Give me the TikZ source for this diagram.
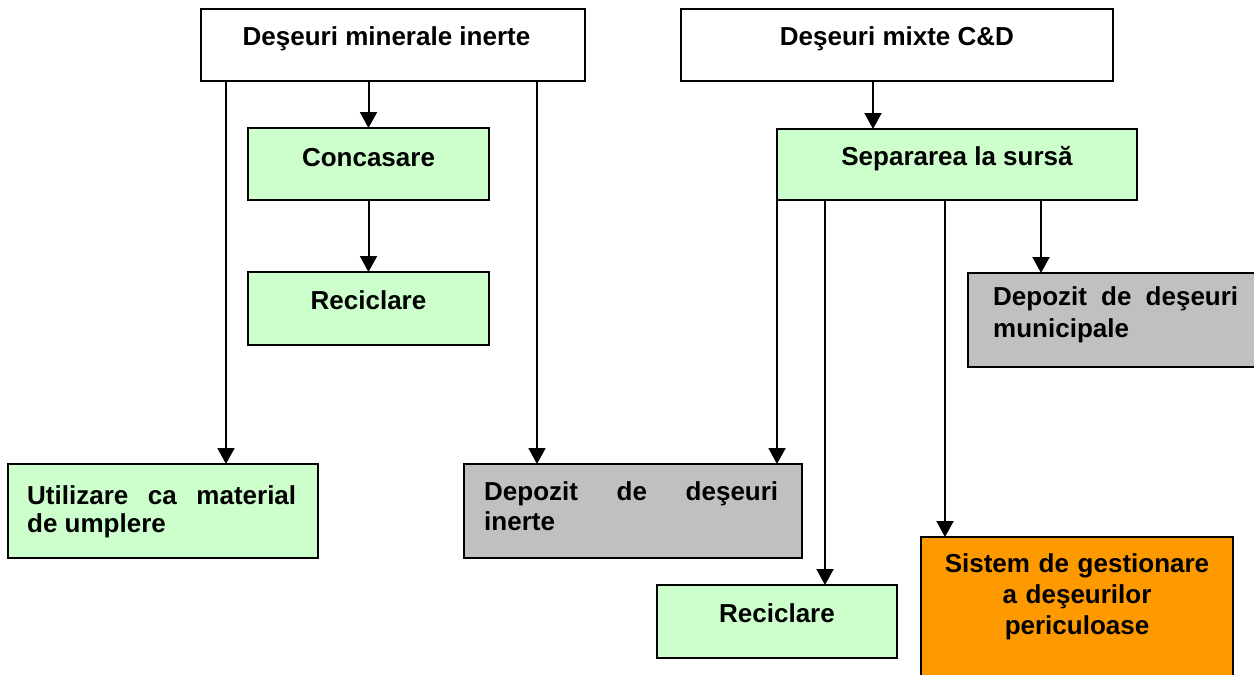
\documentclass[tikz,border=0pt]{standalone}
\usepackage{fontspec}
\setmainfont{Liberation Sans}
\usetikzlibrary{arrows.meta,calc}
\definecolor{lgreen}{RGB}{204,255,204}
\definecolor{lgray}{RGB}{192,192,192}
\definecolor{orng}{RGB}{255,153,0}
\tolerance=10000
\hbadness=10000
\hyphenpenalty=10000
\exhyphenpenalty=10000
\begin{document}
\begin{tikzpicture}[x=1pt,y=-1pt,
  box/.style={draw=black,line width=2pt,rectangle,inner sep=0pt,outer sep=0pt,anchor=north west},
  whitebox/.style={box,fill=white},
  greenbox/.style={box,fill=lgreen},
  graybox/.style={box,fill=lgray},
  orangebox/.style={box,fill=orng},
  lbl/.style={font=\fontsize{26}{30}\selectfont\bfseries,inner sep=0pt,anchor=base},
  para/.style={font=\fontsize{26}{#1}\selectfont\bfseries,inner sep=0pt,anchor=north west,align=justify},
  arr/.style={line width=2pt,-{Triangle[width=17pt,length=16pt]}}]
\useasboundingbox (0,0) rectangle (1254,675);

% boxes
\node[whitebox,minimum width=384pt,minimum height=72pt] (a) at (201,9) {};
\node[whitebox,minimum width=432pt,minimum height=72pt] (b) at (681,9) {};
\node[greenbox,minimum width=241pt,minimum height=72pt] (conc) at (248,128) {};
\node[greenbox,minimum width=241pt,minimum height=73pt] (rec1) at (248,272) {};
\node[greenbox,minimum width=310pt,minimum height=94pt] (util) at (8,464) {};
\node[graybox,minimum width=338pt,minimum height=94pt] (dep1) at (464,464) {};
\node[greenbox,minimum width=360pt,minimum height=71pt] (sep) at (777,129) {};
\node[greenbox,minimum width=240pt,minimum height=73pt] (rec2) at (657,585) {};
\node[graybox,minimum width=300pt,minimum height=94pt] (mun) at (968,273) {};
\node[orangebox,minimum width=312pt,minimum height=150pt] (sist) at (921,537) {};

% texts
\node[lbl] (ta) at ([xshift=-6.5pt,yshift=-36pt]a.north) {Deşeuri minerale inerte};
\node[lbl] (tb) at ([yshift=-36pt]b.north) {Deşeuri mixte C\&D};
\node[lbl] (tconc) at ([yshift=-38pt]conc.north) {Concasare};
\node[lbl] (trec1) at ([yshift=-37pt]rec1.north) {Reciclare};
\node[lbl] (tsep) at ([yshift=-36pt]sep.north) {Separarea la sursă};
\node[lbl] (trec2) at ([yshift=-37pt]rec2.north) {Reciclare};
\node[para=28,text width=269pt] (tutil) at (27,485) {\rule{0pt}{19pt}Utilizare ca material de umplere};
\node[para=30,text width=294pt] (tdep1) at (484,481) {\rule{0pt}{19pt}Depozit de deşeuri inerte};
\node[para=32,text width=245pt] (tmun) at (993,286) {\rule{0pt}{19pt}Depozit de deşeuri municipale};
\node[font=\fontsize{26}{31}\selectfont\bfseries,inner sep=0pt,anchor=north,align=center,text width=300pt] (tsist) at (1077,553) {\rule{0pt}{19pt}Sistem de gestionare\\a deşeurilor\\periculoase};

% connectors
\draw[arr] ([xshift=25pt]a.south west) -- ([xshift=25pt]a.south west |- util.north);
\draw[arr] (conc.north |- a.south) -- (conc.north);
\draw[arr] (conc.south) -- (rec1.north);
\draw[arr] ([xshift=-48pt]a.south east) -- ([xshift=-48pt]a.south east |- dep1.north);
\draw[arr] ([xshift=192pt]b.south west) -- ([xshift=192pt]b.south west |- sep.north);
\draw[arr] (sep.south west) -- (sep.south west |- dep1.north);
\draw[arr] ([xshift=48pt]sep.south west) -- ([xshift=48pt]sep.south west |- rec2.north);
\draw[arr] ([xshift=168pt]sep.south west) -- ([xshift=168pt]sep.south west |- sist.north);
\draw[arr] ([xshift=264pt]sep.south west) -- ([xshift=264pt]sep.south west |- mun.north);
\end{tikzpicture}
\end{document}
